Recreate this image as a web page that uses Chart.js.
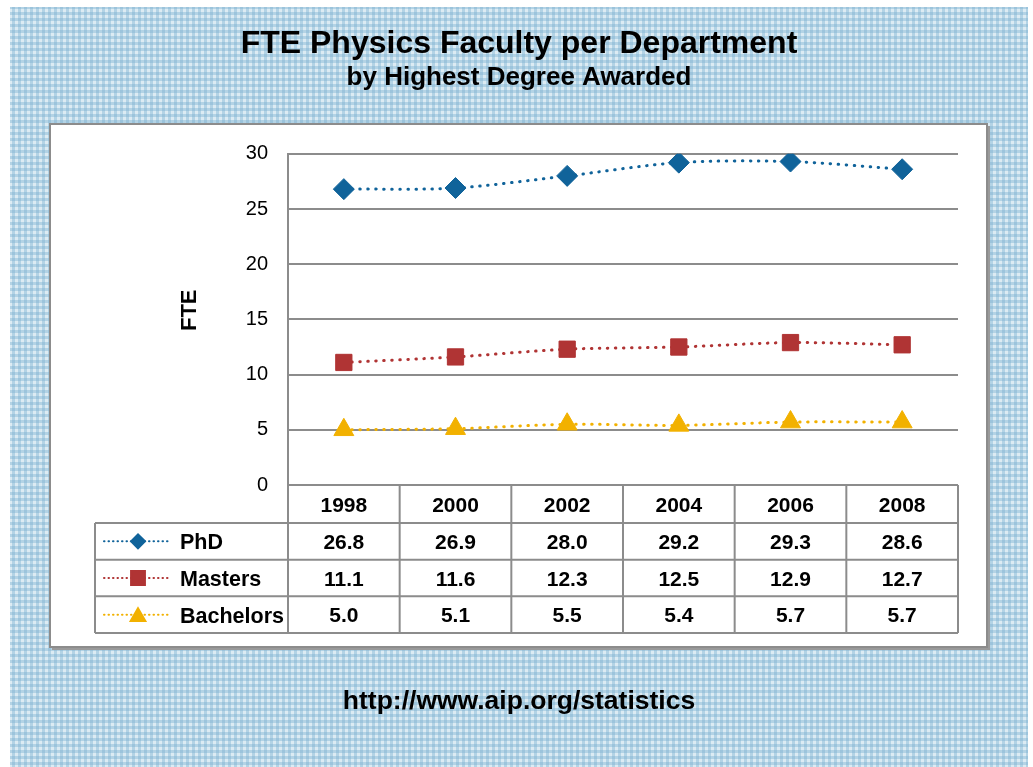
<!DOCTYPE html>
<html>
<head>
<meta charset="utf-8">
<script src="https://cdn.jsdelivr.net/npm/chart.js@4"></script>
<style>
    html, body { margin: 0; padding: 0; background: #fff; }
    #wrap { width: 1033px; height: 767px; }
</style>
</head>
<body>
<div id="wrap"><canvas id="fte_chart" width="1033" height="767"></canvas></div>
<script type="text/javascript">
    var years = ["1998", "2000", "2002", "2004", "2006", "2008"];
    var phd = [26.8, 26.9, 28.0, 29.2, 29.3, 28.6];
    var masters = [11.1, 11.6, 12.3, 12.5, 12.9, 12.7];
    var bachelors = [5.0, 5.1, 5.5, 5.4, 5.7, 5.7];
    var yTicks = [0, 5, 10, 15, 20, 25, 30];

    var FONT = "'Liberation Sans', Arial, sans-serif";
    var GRID = "#8c8c8c";

    // gingham background + white panel behind the chart
    var backdrop = {
        id: "backdrop",
        beforeDraw: function (chart) {
            var ctx = chart.ctx;
            var tile = document.createElement("canvas");
            tile.width = 6; tile.height = 6;
            var t = tile.getContext("2d");
            t.fillStyle = "#dcebf3"; t.fillRect(0, 0, 6, 6);
            t.fillStyle = "#b3d3e5"; t.fillRect(0, 0, 3, 6); t.fillRect(0, 0, 6, 3);
            t.fillStyle = "#9cc4dc"; t.fillRect(0, 0, 3, 3);
            ctx.save();
            ctx.fillStyle = ctx.createPattern(tile, "repeat");
            ctx.fillRect(10, 7, 1018, 760);
            ctx.fillStyle = "#9a9a9a";
            ctx.fillRect(52, 126, 938, 524);
            ctx.fillStyle = "#fff";
            ctx.fillRect(50, 124, 937, 523);
            ctx.strokeStyle = GRID;
            ctx.lineWidth = 2;
            ctx.strokeRect(50, 124, 937, 523);
            ctx.restore();
        },
        afterDraw: function (chart) {
            var ctx = chart.ctx;
            var xs = chart.scales.x;
            var area = chart.chartArea;
            var colW = (area.right - area.left) / years.length;
            var top = xs.top, bottom = xs.bottom;
            var headH = 38;
            var rowH = (bottom - top - headH) / 3;
            var legLeft = 95;
            var keySize = { rectRot: 7, rect: 9.8, triangle: 8.5 };
            ctx.save();
            ctx.strokeStyle = GRID;
            ctx.lineWidth = 2;
            ctx.beginPath();
            for (var i = 0; i <= years.length; i++) {
                var bx = area.left + i * colW;
                ctx.moveTo(bx, top); ctx.lineTo(bx, bottom);
            }
            ctx.moveTo(legLeft, top + headH); ctx.lineTo(legLeft, bottom);
            for (var r = 0; r <= 3; r++) {
                var by = top + headH + r * rowH;
                ctx.moveTo(legLeft, by); ctx.lineTo(area.right, by);
            }
            ctx.stroke();

            ctx.fillStyle = "#000";
            ctx.font = "bold 21px " + FONT;
            ctx.textAlign = "center";
            ctx.textBaseline = "middle";
            years.forEach(function (y, i) {
                ctx.fillText(y, xs.getPixelForValue(i), top + headH / 2 + 2);
            });
            chart.data.datasets.forEach(function (ds, r) {
                var cy = top + headH + r * rowH + rowH / 2;
                ctx.fillStyle = "#000";
                ctx.font = "bold 21px " + FONT;
                ctx.textAlign = "center";
                ds.data.forEach(function (v, i) {
                    ctx.fillText(v.toFixed(1), xs.getPixelForValue(i), cy + 2);
                });
                // legend key
                ctx.save();
                ctx.strokeStyle = ds.borderColor;
                ctx.lineWidth = 2;
                ctx.lineCap = "round";
                ctx.setLineDash([0.5, 4]);
                ctx.beginPath();
                ctx.moveTo(104, cy); ctx.lineTo(168, cy);
                ctx.stroke();
                ctx.restore();
                ctx.fillStyle = ds.pointBackgroundColor;
                ctx.strokeStyle = ds.pointBorderColor;
                Chart.helpers.drawPoint(ctx, {
                    pointStyle: ds.pointStyle,
                    radius: keySize[ds.pointStyle],
                    rotation: 0,
                    borderWidth: 1
                }, 138, ds.pointStyle === "triangle" ? cy + 2 : cy);
                ctx.fillStyle = "#000";
                ctx.font = "bold 21.5px " + FONT;
                ctx.textAlign = "left";
                ctx.fillText(ds.label, 180, cy + 2);
            });

            ctx.font = "bold 26.5px " + FONT;
            ctx.textAlign = "center";
            ctx.fillText("http://www.aip.org/statistics", 519, 702);
            ctx.restore();
        }
    };

    function series(label, data, color, style, radius) {
        return {
            label: label,
            data: data,
            borderColor: color,
            backgroundColor: color,
            pointBackgroundColor: color,
            pointBorderColor: color,
            pointBorderWidth: 1,
            pointStyle: style,
            pointRadius: radius,
            borderWidth: 3,
            borderDash: [0.5, 7.5],
            borderCapStyle: "round",
            tension: 0.3
        };
    }

    var ctx = document.getElementById("fte_chart").getContext("2d");
    new Chart(ctx, {
        type: "line",
        data: {
            labels: years,
            datasets: [
                series("PhD", phd, "#10639a", "rectRot", 10.5),
                series("Masters", masters, "#b03434", "rect", 11.5),
                series("Bachelors", bachelors, "#f2b100", "triangle", 11.5)
            ]
        },
        plugins: [backdrop],
        options: {
            responsive: false,
            animation: false,
            layout: { padding: { left: 80, right: 75, top: 0, bottom: 134 } },
            plugins: {
                legend: { display: false },
                tooltip: { enabled: false },
                title: {
                    display: true,
                    text: "FTE Physics Faculty per Department",
                    color: "#000",
                    font: { family: FONT, size: 32, weight: "bold", lineHeight: 1.1 },
                    padding: { top: 27, bottom: 0 }
                },
                subtitle: {
                    display: true,
                    text: "by Highest Degree Awarded",
                    color: "#000",
                    font: { family: FONT, size: 26, weight: "bold", lineHeight: 1.1 },
                    padding: { top: 1, bottom: 62 }
                }
            },
            scales: {
                x: {
                    type: "category",
                    offset: true,
                    ticks: { display: false },
                    grid: { display: false },
                    border: { display: false },
                    afterFit: function (s) { s.height = 148; }
                },
                y: {
                    min: 0,
                    max: 30,
                    afterBuildTicks: function (s) {
                        s.ticks = yTicks.map(function (v) { return { value: v }; });
                    },
                    ticks: {
                        color: "#000",
                        padding: 20,
                        font: { family: FONT, size: 20 }
                    },
                    grid: { color: GRID, lineWidth: 2, drawTicks: false },
                    border: { display: true, color: GRID, width: 2 },
                    title: {
                        display: true,
                        text: "   FTE",
                        color: "#000",
                        font: { family: FONT, size: 22, weight: "bold" },
                        padding: { top: 97, bottom: 0 }
                    },
                    afterFit: function (s) { s.width = 208; }
                }
            }
        }
    });
</script>
</body>
</html>
